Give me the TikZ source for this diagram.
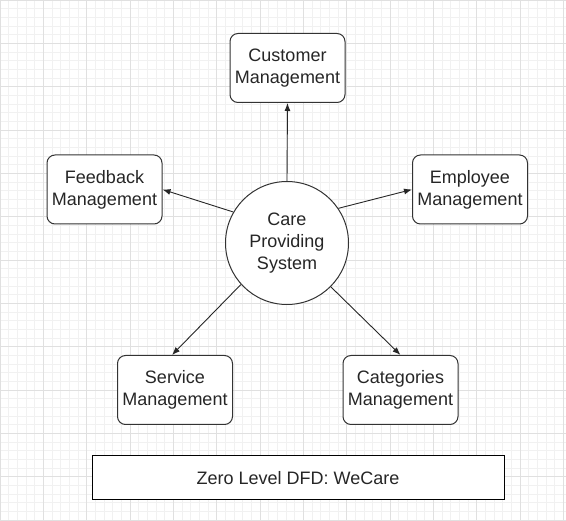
\documentclass[tikz,border=0pt]{standalone}
\usepackage{fontspec}
\setmainfont{Liberation Sans}
\usetikzlibrary{arrows.meta}
\definecolor{minorgrid}{HTML}{F1F1F1}
\definecolor{majorgrid}{HTML}{E0E0E0}
\definecolor{edge}{HTML}{333333}
\begin{document}
\begin{tikzpicture}[x=1pt,y=-1pt,
  procbox/.style={draw=edge,line width=1pt,rounded corners=8pt,fill=white,
    minimum width=115pt,minimum height=69pt,align=center,inner sep=0pt,
    font=\fontsize{18}{22}\selectfont,text=black!85},
  proccircle/.style={draw=edge,line width=1pt,circle,fill=white,minimum size=123pt,
    align=center,inner sep=0pt,font=\fontsize{18}{22}\selectfont,text=black!85},
  titlebox/.style={draw=black,line width=1pt,fill=white,minimum width=412pt,
    minimum height=44pt,inner sep=0pt,font=\fontsize{18}{22}\selectfont,text=black!85},
  flow/.style={draw=black!85,line width=0.9pt,-{Latex[length=8pt,width=6pt]}}]
\useasboundingbox (0,0) rectangle (566,521);
\fill[white] (0,0) rectangle (566,521);
% grid
\foreach \i in {0,...,65} {
  \draw[minorgrid,line width=0.6pt] ({\i*8.6667},0) -- ({\i*8.6667},521);
}
\foreach \i in {0,...,60} {
  \draw[minorgrid,line width=0.6pt] (0,{\i*8.6667}) -- (566,{\i*8.6667});
}
\foreach \i in {0,...,13} {
  \draw[majorgrid,line width=0.8pt] ({\i*43.333},0) -- ({\i*43.333},521);
}
\foreach \i in {0,...,12} {
  \draw[majorgrid,line width=0.8pt] (0,{\i*43.333}) -- (566,{\i*43.333});
}
% nodes
\node[proccircle] (sys) at (287,243) {Care\\Providing\\System};
\node[procbox] (cust) at (287.5,68) {Customer\\Management};
\node[procbox] (emp) at (470,189.5) {Employee\\Management};
\node[procbox] (fb) at (104.5,189.5) {Feedback\\Management};
\node[procbox] (srv) at (175,390) {Service\\Management};
\node[procbox] (cat) at (400.5,390) {Categories\\Management};
\node[titlebox] (title) at (298,478) {Zero Level DFD: WeCare};
% flows
\draw[flow] (sys.north) -- (cust.south);
\draw[flow] (sys.34) -- (emp.west);
\draw[flow] (sys.150) -- (fb.east);
\draw[flow] (sys.222) -- ([xshift=-3pt]srv.north);
\draw[flow] (sys.-45) -- (cat.north);
\end{tikzpicture}
\end{document}
